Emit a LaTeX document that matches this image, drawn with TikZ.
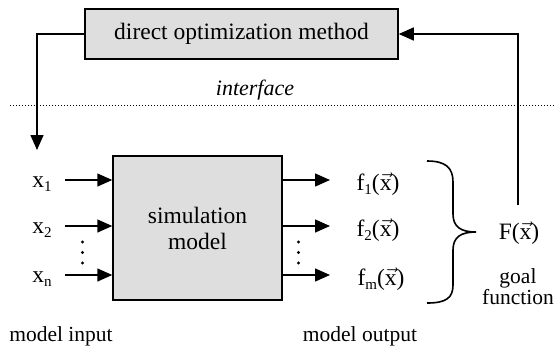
\documentclass[tikz,border=0pt]{standalone}
\usepackage{fontspec}
\setmainfont{Liberation Serif}
\usetikzlibrary{arrows.meta}
\definecolor{boxgray}{RGB}{222,222,222}
\newcommand\vx{\ensuremath{\vec{\mbox{x}}}}
\newcommand\lowsub[1]{\raisebox{-4.5pt}{\fontsize{15}{15}\selectfont #1}}
\begin{document}
\begin{tikzpicture}[x=1pt,y=-1pt,
  every node/.style={font=\fontsize{23.5}{27}\selectfont, inner sep=0pt},
  blockbox/.style={draw, line width=1.5pt, fill=boxgray},
  conn/.style={line width=1.5pt},
  arr/.style={conn, -{Triangle[length=15pt,width=13pt]}},
  smalltext/.style={font=\fontsize{21.5}{21}\selectfont}]
\useasboundingbox (0,0) rectangle (554,349);
% optimization box
\node[blockbox, minimum width=313pt, minimum height=50pt] (opt) at (241.5,34) {direct optimization method};
\node[font=\fontsize{22}{26}\selectfont\itshape] (iface) at (255,90) {interface};
\coordinate (dl) at (10,105);
\coordinate (dr) at (554,105);
\draw[line width=1pt, dotted] (dl) -- (dr);
% simulation model
\node[blockbox, minimum width=169pt, minimum height=144pt, align=center] (sim) at (197.5,228) {simulation\\[-1pt]model};
% inputs
\node (x1) at (42,184) {x\lowsub{1}};
\node (x2) at (42,230) {x\lowsub{2}};
\node (xn) at (42,279) {x\lowsub{n}};
\coordinate (a1) at (65,180);
\coordinate (a2) at (65,226);
\coordinate (an) at (65,275);
\draw[arr] (a1) -- (a1 -| sim.west);
\draw[arr] (a2) -- (a2 -| sim.west);
\draw[arr] (an) -- (an -| sim.west);
\foreach \yy in {242,252.5,263} \fill (82.5,\yy) circle (1.7pt);
% outputs
\coordinate (b1) at (sim.east |- 0,180);
\coordinate (b2) at (sim.east |- 0,226);
\coordinate (bn) at (sim.east |- 0,275);
\coordinate (c1) at (330,180);
\coordinate (c2) at (330,226);
\coordinate (cn) at (330,275);
\draw[arr] (b1) -- (c1);
\draw[arr] (b2) -- (c2);
\draw[arr] (bn) -- (cn);
\foreach \yy in {242,252.5,263} \fill (298.5,\yy) circle (1.7pt);
\node (f1) at (378,184) {f\lowsub{1}(\vx)};
\node (f2) at (378,230) {f\lowsub{2}(\vx)};
\node (fm) at (381,279) {f\lowsub{m}(\vx)};
% brace
\coordinate (brtop) at (427,161);
\coordinate (brtip) at (476,232);
\coordinate (brbot) at (427,303);
\draw[line width=1.6pt] (brtop) .. controls (446,161) and (453,168) .. (453,182) -- (453,214)
  .. controls (453,227) and (461,232) .. (brtip)
  .. controls (461,232) and (453,237) .. (453,250) -- (453,285)
  .. controls (453,298) and (446,303) .. (brbot);
% goal function
\node (F) at (519,233) {F(\vx)};
\node[align=center, smalltext] (goal) at (518,287) {goal\\function};
% feedback connectors
\coordinate (fstart) at (518,205);
\coordinate (xin) at (37,150);
\draw[arr] (fstart) -- (fstart |- opt.east) -- (opt.east);
\draw[arr] (opt.west) -| (xin);
% bottom labels
\node[smalltext] (min) at (61,336) {model input};
\node[smalltext] (mout) at (360,336) {model output};
\end{tikzpicture}
\end{document}
